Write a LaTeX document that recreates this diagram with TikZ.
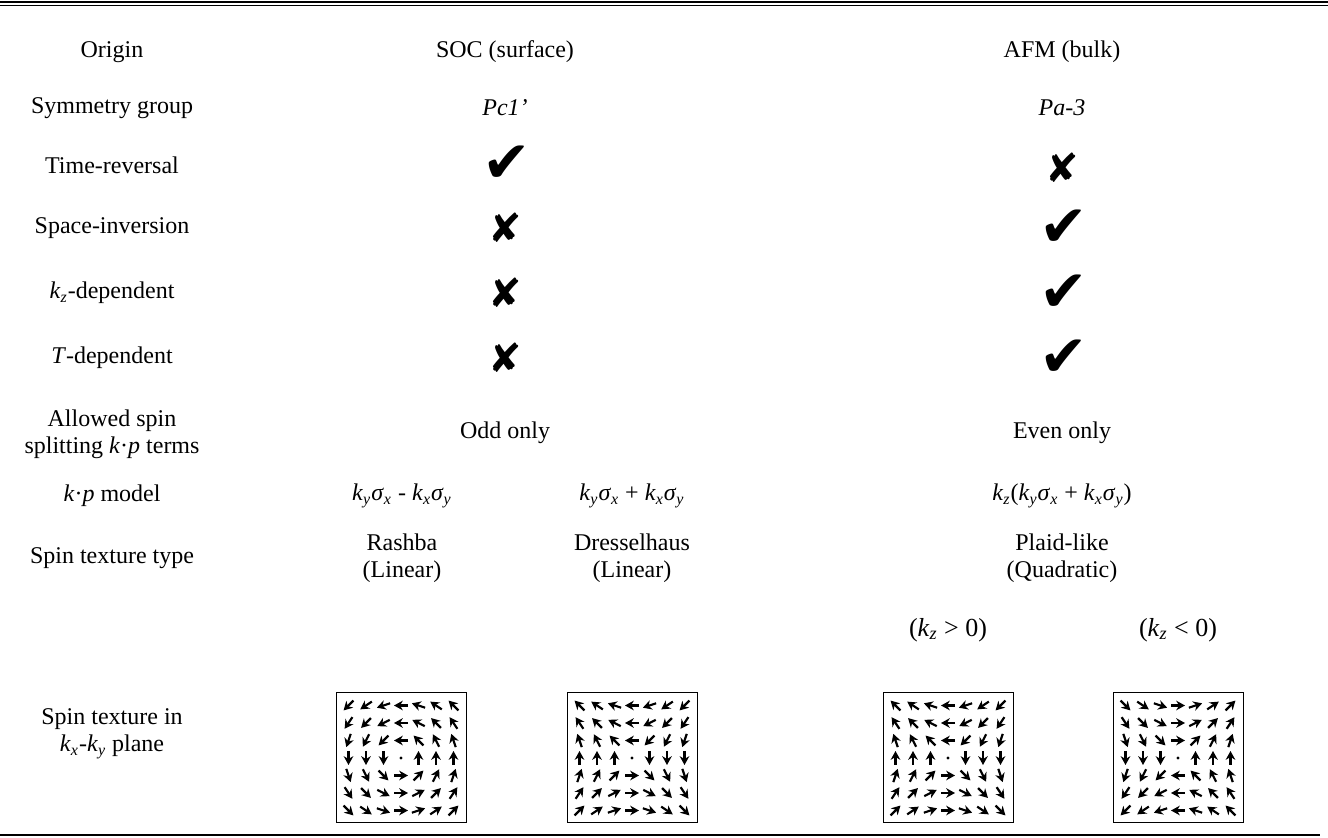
\documentclass[tikz,border=0pt]{standalone}
\usepackage{fontspec}
\setmainfont{Liberation Serif}
\newfontfamily\symfont{DejaVu Sans}
\usetikzlibrary{arrows.meta}

\newcommand\kk[1]{\textit{k}\textsubscript{\textit{#1}}}
\newcommand\sg[1]{\textit{σ}\textsubscript{\textit{#1}}}
\newcommand\kdotp{\textit{k}·\textit{p}}
\newcommand\yesmark{{\symfont\fontsize{29}{29}\selectfont ✔}}
\newcommand\nomark{{\symfont\fontsize{20}{20}\selectfont ✘}}

% spin texture box: name, x, y, field x, field y (in \i, \j)
\newcommand\spinbox[5]{%
  \node[draw, line width=0.5pt, minimum size=65pt, inner sep=0pt] (#1) at (#2,#3) {};
  \foreach \i in {-3,...,3}{
    \foreach \j in {-3,...,3}{
      \pgfmathtruncatemacro\zz{abs(\i)+abs(\j)}
      \ifnum\zz=0
        \fill (#1.center) circle[radius=0.8pt];
      \else
        \pgfmathsetmacro\ang{atan2(-(#5),#4)}
        \draw[spin] ([shift={(\i*17.5,-\j*17.5)}]#1.center) ++(\ang+180:7) -- ++(\ang:14);
      \fi
    }
  }
}

\begin{document}
\begin{tikzpicture}[x=0.5pt, y=-0.5pt, font=\fontsize{12}{13.5}\selectfont]
  \tikzset{cell/.style={inner sep=0pt, align=center},
    spin/.style={line width=1.1pt, -{Stealth[length=4.4pt, width=4.8pt]}}}
  \useasboundingbox (0,0) rectangle (1328,838);

  % rules
  \draw[line width=1.3pt] (0,2) -- (1328,2);
  \draw[line width=0.5pt] (0,5.5) -- (1328,5.5);
  \draw[line width=0.7pt] (0,835) -- (1320,835);

  % header
  \node[cell] (origin) at (112,52) {Origin};
  \node[cell] (soc) at (505,52) {SOC (surface)};
  \node[cell] (afm) at (1062,52) {AFM (bulk)};

  % row labels
  \node[cell] (sym) at (112,108) {Symmetry group};
  \node[cell] (trev) at (112,165) {Time-reversal};
  \node[cell] (sinv) at (112,228) {Space-inversion};
  \node[cell] (kzdep) at (112,293) {\kk{z}-dependent};
  \node[cell] (tdep) at (112,358) {\textit{T}-dependent};
  \node[cell] (allowed) at (112,434) {Allowed spin\\splitting \kdotp{} terms};
  \node[cell] (model) at (112,496) {\kdotp{} model};
  \node[cell] (ttype) at (112,558) {Spin texture type};
  \node[cell] (tplane) at (112,734) {Spin texture in\\\kk{x}-\kk{y} plane};

  % SOC column
  \node[cell] (socsym) at (505,108) {\textit{Pc1’}};
  \node[cell] (soctr) at (507,164) {\yesmark};
  \node[cell] (socsi) at (505,228) {\nomark};
  \node[cell] (sockz) at (505,293) {\nomark};
  \node[cell] (soct) at (505,358) {\nomark};
  \node[cell] (socodd) at (505,433) {Odd only};
  \node[cell] (rashbam) at (402,496) {\kk{y}\sg{x} - \kk{x}\sg{y}};
  \node[cell] (dresm) at (632,496) {\kk{y}\sg{x} + \kk{x}\sg{y}};
  \node[cell] (rashba) at (402,558) {Rashba\\(Linear)};
  \node[cell] (dres) at (632,558) {Dresselhaus\\(Linear)};

  % AFM column
  \node[cell] (afmsym) at (1062,108) {\textit{Pa-3}};
  \node[cell] (afmtr) at (1062,168) {\nomark};
  \node[cell] (afmsi) at (1064,228) {\yesmark};
  \node[cell] (afmkz) at (1064,293) {\yesmark};
  \node[cell] (afmt) at (1064,358) {\yesmark};
  \node[cell] (afmeven) at (1062,433) {Even only};
  \node[cell] (plaidm) at (1062,496) {\kk{z}(\kk{y}\sg{x} + \kk{x}\sg{y})};
  \node[cell] (plaid) at (1062,558) {Plaid-like\\(Quadratic)};
  \node[cell, font=\fontsize{13}{14}\selectfont] (kzpos) at (948,630) {(\kk{z} > 0)};
  \node[cell, font=\fontsize{13}{14}\selectfont] (kzneg) at (1178,630) {(\kk{z} < 0)};

  % spin textures
  \spinbox{boxr}{401}{758}{-(\j)}{(\i)}
  \spinbox{boxd}{632}{758}{-(\j)}{-(\i)}
  \spinbox{boxp}{948}{758}{-(\j)}{-(\i)}
  \spinbox{boxn}{1178}{758}{(\j)}{(\i)}
\end{tikzpicture}
\end{document}
